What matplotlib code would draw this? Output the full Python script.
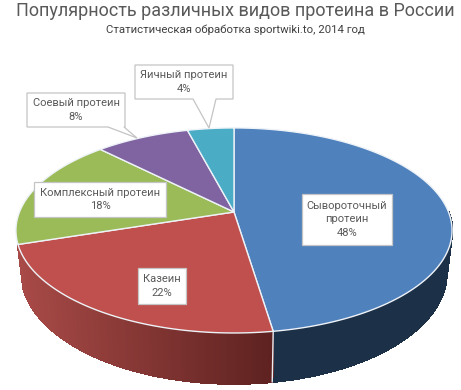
import numpy as np
import matplotlib
matplotlib.use("Agg")
import matplotlib.pyplot as plt
from matplotlib.patches import Polygon
from matplotlib.collections import PolyCollection
from matplotlib.colors import to_rgb

title = "Популярность различных видов протеина в России"
subtitle = "Статистическая обработка sportwiki.to, 2014 год"
categories = ["Сывороточный\nпротеин", "Казеин", "Комплексный протеин", "Соевый протеин", "Яичный протеин"]
values = [47.6, 22.4, 17.6, 8.3, 4.1]
colors = ["#4f81bd", "#c0504d", "#9bbb59", "#8064a2", "#4bacc6"]
side_left = ["#1c3048", "#a84a47"]
side_right = ["#1c3048", "#5e2220"]

fig = plt.figure(figsize=(4.61, 3.90), dpi=100, facecolor="white")
ax = fig.add_axes([0, 0, 1, 1])
ax.set_xlim(0, 461)
ax.set_ylim(390, 0)
ax.axis("off")

FONT = ["Roboto", "DejaVu Sans"]
CX, CY, R, RY, K = 234.0, 212.0, 214.5, 99.2, 0.18


def top(theta):
    u, v = np.sin(theta), np.cos(theta)
    w = 1 + K * v
    return CX + R * u / w, CY - RY * v / w


def bottom(theta):
    x, y = top(theta)
    return CX + (x - CX) * 0.975, CY + (y - CY) * 1.08 + 41


edges = np.concatenate([[0], np.cumsum(values)]) / sum(values) * 2 * np.pi

# Side wall: the reference shows it for the two front slices only
for i in range(len(side_left)):
    a, b = max(edges[i], np.pi * 0.5), edges[i + 1]
    th = np.linspace(a, b, 120)
    polys, cols = [], []
    xa, xb = bottom(th[0])[0], bottom(th[-1])[0]
    c0, c1 = np.array(to_rgb(side_left[i])), np.array(to_rgb(side_right[i]))
    for t0, t1 in zip(th[:-1], th[1:]):
        polys.append([top(t0), top(t1), bottom(t1), bottom(t0)])
        f = (max(xa, xb) - bottom(t0)[0]) / (abs(xb - xa) + 1e-9)
        cols.append(c1 * (1 - f) + c0 * f)
    ax.add_collection(PolyCollection(polys, facecolors=cols, edgecolors=cols, linewidths=1.0,
                                     antialiaseds=False, zorder=2))
ax.plot(*zip(top(edges[1]), bottom(edges[1])), color="#e8eef4", lw=1.0, zorder=3)

# Top face
for i in range(len(values)):
    th = np.linspace(edges[i], edges[i + 1], 200)
    xs, ys = top(th)
    pts = np.column_stack([np.r_[CX, xs], np.r_[CY, ys]])
    ax.add_patch(Polygon(pts, closed=True, facecolor=colors[i], edgecolor="#eef3f8", lw=1.0, zorder=4, joinstyle="round"))


def labelbox(x0, y0, x1, y1, text, tip=None, base=None):
    pts = [(x0, y0), (x1, y0), (x1, y1)]
    if tip is not None:
        pts += [(base[1], y1), tip, (base[0], y1)]
    pts += [(x0, y1)]
    ax.add_patch(Polygon(pts, closed=True, facecolor="white", edgecolor="#c4c4c4", lw=0.9, zorder=5))
    ax.text((x0 + x1) / 2, (y0 + y1) / 2, text, ha="center", va="center", fontsize=LABEL_FS,
            color="#595959", family=FONT, linespacing=1.42, zorder=6)


LABEL_FS = 8.0
pct = [f"{round(v)}%" for v in values]
labelbox(302, 194, 392, 245, f"{categories[0]}\n{pct[0]}")
labelbox(138, 268, 186, 304, f"{categories[1]}\n{pct[1]}")
labelbox(34, 182, 166, 217, f"{categories[2]}\n{pct[2]}")
labelbox(27, 93, 125, 127, f"{categories[3]}\n{pct[3]}", tip=(137, 138), base=(108, 124))
labelbox(135, 65, 233, 99, f"{categories[4]}\n{pct[4]}", tip=(209, 128), base=(193, 216))

ax.text(235, 11, title, ha="center", va="center", fontsize=13.0, color="#595959", family=FONT)
ax.text(235, 30, subtitle, ha="center", va="center", fontsize=8.2, color="#404040", family=FONT)

fig.savefig("out.png", dpi=100, facecolor="white")
